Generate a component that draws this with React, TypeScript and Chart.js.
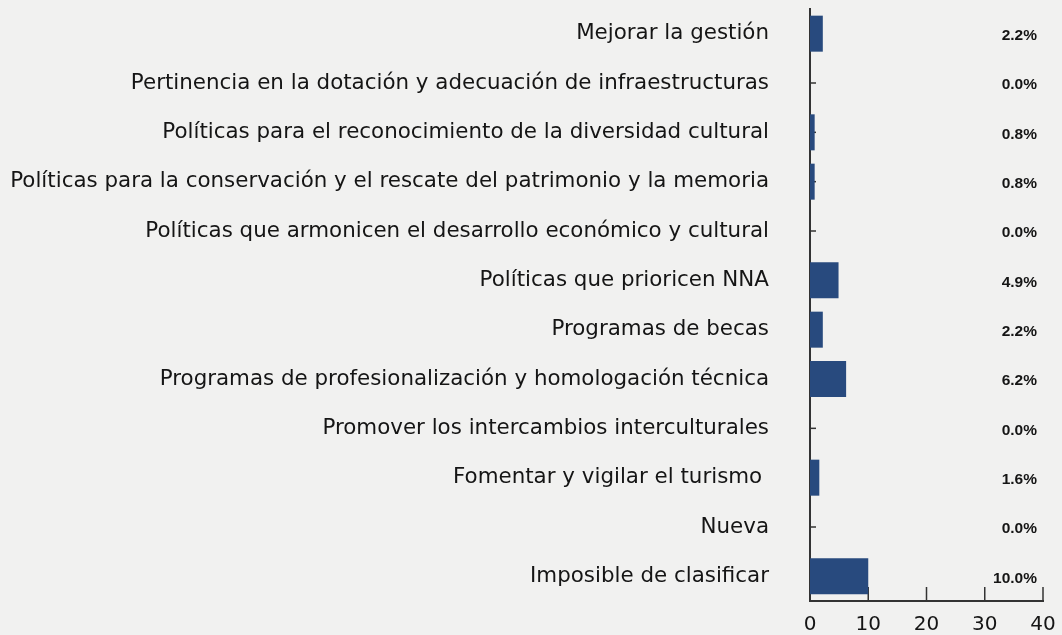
import React, { useEffect, useRef } from "react";
import { Chart, registerables } from "chart.js";

Chart.register(...registerables);

const categories: string[] = [
  "Mejorar la gestión",
  "Pertinencia en la dotación y adecuación de infraestructuras",
  "Políticas para el reconocimiento de la diversidad cultural",
  "Políticas para la conservación y el rescate del patrimonio y la memoria",
  "Políticas que armonicen el desarrollo económico y cultural",
  "Políticas que prioricen NNA",
  "Programas de becas",
  "Programas de profesionalización y homologación técnica",
  "Promover los intercambios interculturales",
  "Fomentar y vigilar el turismo ",
  "Nueva",
  "Imposible de clasificar",
];

const values: number[] = [2.2, 0.0, 0.8, 0.8, 0.0, 4.9, 2.2, 6.2, 0.0, 1.6, 0.0, 10.0];

const xTicks: number[] = [0, 10, 20, 30, 40];

const BAR_COLOR = "#284a7e";
const AXIS_COLOR = "#333333";
const TEXT_COLOR = "#151515";
const LABEL_FONT = "'DejaVu Sans', 'Noto Sans', sans-serif";

const innerTicksPlugin = {
  id: "innerTicks",
  beforeDatasetsDraw(chart: any) {
    const { ctx, chartArea, scales } = chart;
    const x = scales.x;
    const y = scales.y;
    ctx.save();
    ctx.strokeStyle = AXIS_COLOR;
    ctx.lineWidth = 1.5;
    categories.forEach((_, i) => {
      const py = y.getPixelForValue(i);
      ctx.beginPath();
      ctx.moveTo(chartArea.left, py);
      ctx.lineTo(chartArea.left + 6, py);
      ctx.stroke();
    });
    xTicks.forEach((v) => {
      const px = x.getPixelForValue(v);
      ctx.beginPath();
      ctx.moveTo(px, chartArea.bottom);
      ctx.lineTo(px, chartArea.bottom - 14);
      ctx.stroke();
    });
    ctx.restore();
  },
  afterDatasetsDraw(chart: any) {
    const { ctx, chartArea, scales } = chart;
    const y = scales.y;
    ctx.save();
    ctx.fillStyle = TEXT_COLOR;
    ctx.font = "bold 15.5px 'Liberation Sans', Arial, sans-serif";
    ctx.textAlign = "right";
    ctx.textBaseline = "middle";
    values.forEach((v, i) => {
      const py = y.getPixelForValue(i);
      ctx.fillText(v.toFixed(1) + "%", chartArea.right - 6, py + 2);
    });
    ctx.restore();
  },
};

export default function App() {
  const ref = useRef<HTMLCanvasElement | null>(null);

  useEffect(() => {
    document.body.style.margin = "0";
    const canvas = ref.current;
    if (!canvas) return;
    const chart = new Chart(canvas, {
      type: "bar",
      data: {
        labels: categories,
        datasets: [
          {
            data: values,
            backgroundColor: BAR_COLOR,
            borderWidth: 0,
            barPercentage: 0.73,
            categoryPercentage: 1.0,
          },
        ],
      },
      options: {
        indexAxis: "y",
        animation: false,
        responsive: false,
        maintainAspectRatio: false,
        layout: { padding: { top: 9, right: 19, left: 0, bottom: 0 } },
        plugins: {
          legend: { display: false },
          tooltip: { enabled: false },
        },
        scales: {
          x: {
            min: 0,
            max: 40,
            afterBuildTicks(scale: any) {
              scale.ticks = xTicks.map((v) => ({ value: v }));
            },
            afterFit(scale: any) {
              scale.height = 34;
              scale.paddingLeft = 0;
              scale.paddingRight = 0;
            },
            grid: { display: false, drawTicks: false },
            border: { display: true, color: AXIS_COLOR, width: 2 },
            ticks: {
              padding: 12,
              color: TEXT_COLOR,
              font: { family: LABEL_FONT, size: 20 },
              maxRotation: 0,
            },
          },
          y: {
            afterFit(scale: any) {
              scale.width = 810;
              scale.paddingTop = 0;
              scale.paddingBottom = 0;
            },
            grid: { display: false, drawTicks: false },
            border: { display: true, color: AXIS_COLOR, width: 2 },
            ticks: {
              padding: 41,
              color: TEXT_COLOR,
              font: { family: LABEL_FONT, size: 21.4 },
              autoSkip: false,
            },
          },
        },
      },
      plugins: [innerTicksPlugin],
    });
    return () => chart.destroy();
  }, []);

  return (
    <div style={{ position: "absolute", left: 0, top: 0, width: 1062, height: 635, background: "#f1f1f0" }}>
      <canvas ref={ref} width={1062} height={635} style={{ display: "block" }} />
    </div>
  );
}
